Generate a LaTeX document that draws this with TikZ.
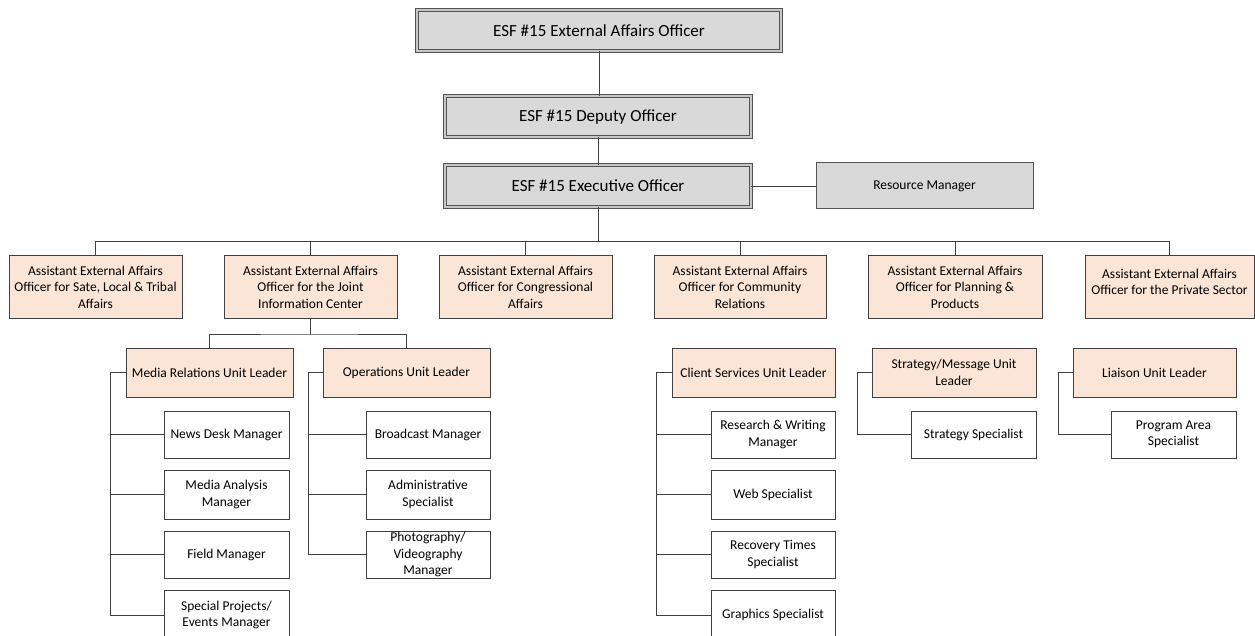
\documentclass[tikz,border=0pt]{standalone}
\usepackage{fontspec}
\setmainfont{Carlito}
\definecolor{boxgray}{HTML}{D9D9D9}
\definecolor{peach}{HTML}{FBE5D6}
\definecolor{lncol}{HTML}{404040}
\newcommand\mybox[7]{%
  \node[#1, minimum width={(#5-#3)*1pt}, minimum height={(#6-#4)*1pt}] (#2) at ({(#3+#5)/2},{(#4+#6)/2}) {#7};}
\tikzset{
  base/.style={inner sep=0pt, outer sep=0pt, align=center, text=black,
    font=\fontsize{13.5}{16.5}\selectfont},
  topbox/.style={base, fill=boxgray, draw=lncol!90, line width=0.8pt, double=boxgray!80!gray, double distance=1.6pt,
    font=\fontsize{17}{20}\selectfont},
  graybox/.style={base, fill=boxgray, draw=lncol!90, line width=1pt},
  peachbox/.style={base, fill=peach, draw=lncol, line width=1pt},
  whitebox/.style={base, fill=white, draw=lncol, line width=1pt},
  conn/.style={draw=lncol, line width=0.95pt},
}
\begin{document}
\begin{tikzpicture}[x=1pt,y=-1pt]
\useasboundingbox[fill=white] (0,0) rectangle (1255,636);
% top chain
\mybox{topbox}{t1}{417}{10}{781}{51}{ESF \#15 External Affairs Officer}
\mybox{topbox}{t2}{445}{96}{751}{137}{ESF \#15 Deputy Officer}
\mybox{topbox}{t3}{445}{165}{751}{207}{ESF \#15 Executive Officer}
\mybox{graybox}{rm}{816}{163}{1033}{209}{Resource Manager}
% assistants
\mybox{peachbox}{a1}{9}{256}{182}{318}{Assistant External Affairs\\Officer for Sate, Local \& Tribal\\Affairs}
\mybox{peachbox}{a2}{224}{256}{397}{318}{Assistant External Affairs\\Officer for the Joint\\Information Center}
\mybox{peachbox}{a3}{439}{256}{612}{318}{Assistant External Affairs\\Officer for Congressional\\Affairs}
\mybox{peachbox}{a4}{654}{256}{826}{318}{Assistant External Affairs\\Officer for Community\\Relations}
\mybox{peachbox}{a5}{868}{256}{1042}{318}{Assistant External Affairs\\Officer for Planning \&\\Products}
\mybox{peachbox}{a6}{1085}{256}{1254}{318}{}
\node[base] (a6t) at ([yshift=5pt]a6.center) {Assistant External Affairs\\Officer for the Private Sector};
% unit leaders
\mybox{peachbox}{mr}{126}{348}{293}{397}{Media Relations Unit Leader}
\mybox{peachbox}{op}{323}{348}{490}{397}{Operations Unit Leader}
\mybox{peachbox}{cs}{672}{348}{835}{397}{Client Services Unit Leader}
\mybox{peachbox}{sm}{872}{348}{1036}{397}{Strategy/Message Unit\\Leader}
\mybox{peachbox}{li}{1073}{348}{1236}{397}{Liaison Unit Leader}
% media relations children
\mybox{whitebox}{nd}{164}{411}{289}{458}{News Desk Manager}
\mybox{whitebox}{ma}{164}{470}{289}{519}{Media Analysis\\Manager}
\mybox{whitebox}{fm}{164}{531}{289}{578}{Field Manager}
\mybox{whitebox}{sp}{164}{590}{289}{640}{Special Projects/\\Events Manager}
% operations children
\mybox{whitebox}{bm}{366}{411}{490}{458}{Broadcast Manager}
\mybox{whitebox}{as}{366}{470}{490}{519}{Administrative\\Specialist}
\mybox{whitebox}{pv}{366}{531}{490}{578}{Photography/\\Videography\\Manager}
% client services children
\mybox{whitebox}{rw}{711}{411}{835}{458}{Research \& Writing\\Manager}
\mybox{whitebox}{ws}{711}{470}{835}{519}{Web Specialist}
\mybox{whitebox}{rt}{711}{531}{835}{578}{Recovery Times\\Specialist}
\mybox{whitebox}{gs}{711}{590}{835}{640}{Graphics Specialist}
% other children
\mybox{whitebox}{ss}{911}{411}{1036}{458}{Strategy Specialist}
\mybox{whitebox}{pa}{1111}{411}{1236}{458}{Program Area\\Specialist}
% connectors: top chain
\draw[conn] (t1.south) -- (t1.south |- t2.north);
\draw[conn] (t2.south) -- (t2.south |- t3.north);
\draw[conn] (t3.east) -- (rm.west);
\coordinate (bus) at (599,241);
\draw[conn] (t3.south) -- (t3.south |- bus);
\draw[conn] (a1.north) -- (a1.north |- bus) -- (a6.north |- bus) -- (a6.north);
\foreach \n in {a2,a3,a4,a5} \draw[conn] (\n.north) -- (\n.north |- bus);
% JIC split
\draw[conn] (a2.south) -- ++(0,16) coordinate (j);
\draw[conn] (mr.north) |- (j) -| (op.north);
% spines
\draw[conn] (mr.west) -- ++(-16,0) |- (sp.west);
\foreach \c in {nd,ma,fm} \draw[conn] ([xshift=-16pt]mr.west |- \c.west) -- (\c.west);
\draw[conn] (op.west) -- ++(-15,0) |- (pv.west);
\foreach \c in {bm,as} \draw[conn] ([xshift=-15pt]op.west |- \c.west) -- (\c.west);
\draw[conn] (cs.west) -- ++(-16,0) |- (gs.west);
\foreach \c in {rw,ws,rt} \draw[conn] ([xshift=-16pt]cs.west |- \c.west) -- (\c.west);
\draw[conn] (sm.west) -- ++(-15,0) |- (ss.west);
\draw[conn] (li.west) -- ++(-15,0) |- (pa.west);
\end{tikzpicture}
\end{document}
